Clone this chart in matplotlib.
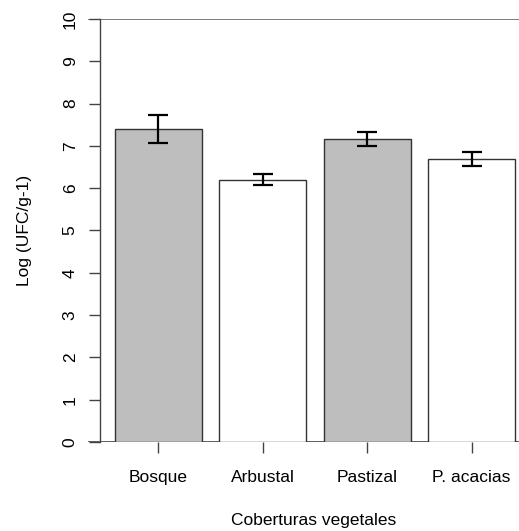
import numpy as np
import matplotlib
matplotlib.use("Agg")
import matplotlib.pyplot as plt

plt.rcParams['font.family'] = ['Liberation Sans', 'DejaVu Sans']

# data
coberturas = ["Bosque", "Arbustal", "Pastizal", "P. acacias"]
media = [7.40, 6.19, 7.17, 6.68]
err_sup = [7.73, 6.33, 7.34, 6.85]
err_inf = [7.08, 6.07, 7.00, 6.52]
relleno = ["#bebebe", "white", "#bebebe", "white"]
yticks = [0, 1, 2, 3, 4, 5, 6, 7, 8, 9, 10]

W, H = 519, 531
fig = plt.figure(figsize=(W / 100, H / 100), dpi=100)
ax = fig.add_axes([88 / W, (H - 442) / H, (W - 88) / W, (442 - 19) / H])

# R-like barplot positions (width 1, space 0.2)
x = 0.2 + np.arange(len(coberturas)) * 1.2 + 0.5
ax.bar(x, media, width=1.0, color=relleno, edgecolor="#333333", linewidth=1.0, zorder=2)

yerr = [np.array(media) - np.array(err_inf), np.array(err_sup) - np.array(media)]
ax.errorbar(x, media, yerr=yerr, fmt="none", ecolor="black", elinewidth=1.6,
            capsize=7, capthick=1.6, zorder=3)

ax.set_xlim(-0.110, 4.844)
ax.set_ylim(0, 10)
ax.axhline(0, color="#444444", linewidth=1.2, zorder=1)
ax.axhline(10, color="#666666", linewidth=1.2, zorder=1)

for s in ["top", "right", "bottom"]:
    ax.spines[s].set_visible(False)
ax.spines["left"].set_position(("data", 0.028))
ax.spines["left"].set_color("#444444")
ax.spines["left"].set_linewidth(1.0)

ax.set_yticks(yticks)
ax.set_yticklabels([str(v) for v in yticks], rotation=90, va="center", fontsize=12.5)
ax.tick_params(axis="y", length=8, width=1.0, color="#444444", pad=8)
ax.set_xticks(x)
ax.set_xticklabels(coberturas, fontsize=12.5)
ax.tick_params(axis="x", length=8, width=1.0, color="#444444", pad=12)

fig.text(25 / W, 1 - 230 / H, "Log (UFC/g-1)", rotation=90, ha="center", va="center", fontsize=12.5)
fig.text(314 / W, 1 - 520 / H, "Coberturas vegetales", ha="center", va="center", fontsize=12.5)

fig.savefig("out.png", dpi=100)
